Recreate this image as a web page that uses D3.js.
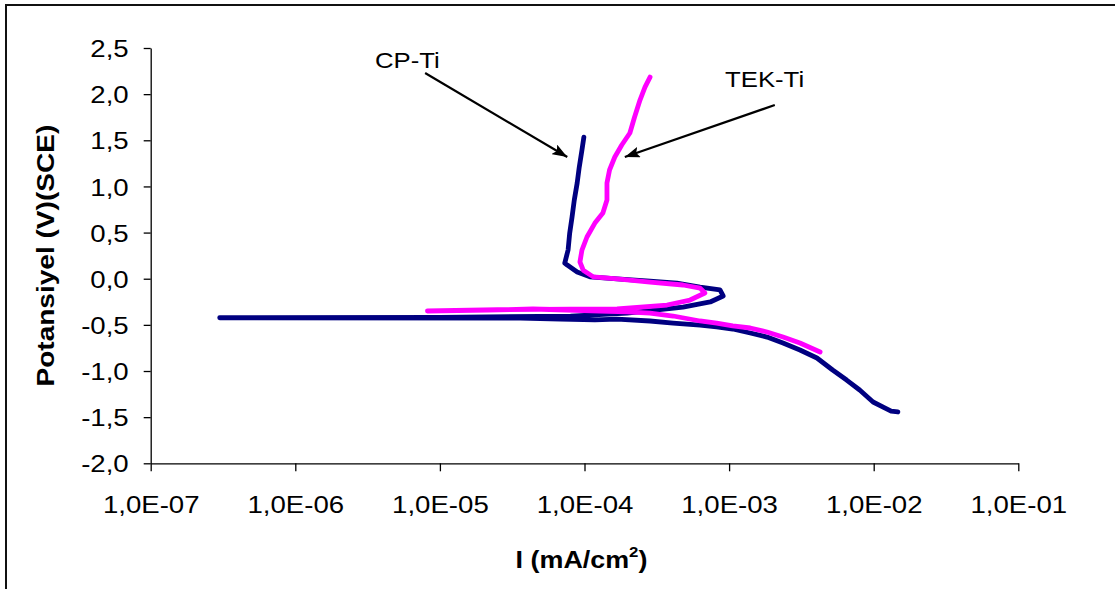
<!DOCTYPE html>
<html>
<head>
<meta charset="utf-8">
<script src="https://cdn.jsdelivr.net/npm/d3@7"></script>
<style>
  html, body { margin: 0; padding: 0; background: #fff; }
  svg { display: block; font-family: "Liberation Sans", Arial, sans-serif; }
</style>
</head>
<body>
<svg id="chart" width="1115" height="589"></svg>
<script>
// Polarisation curves: current density (mA/cm²) vs potential (V vs SCE)
const seriesNames = ["CP-Ti", "TEK-Ti"];
const seriesColors = ["#000080", "#ff00ff"];

// CP-Ti scan: cathodic branch -> corrosion potential -> anodic branch
const cpCurrent = [1.47e-2, 1.32e-2, 1.20e-2, 9.9e-3, 8.0e-3, 6.5e-3, 5.2e-3, 4.05e-3, 3.09e-3, 2.36e-3,
  1.83e-3, 1.40e-3, 1.06e-3, 8.2e-4, 6.3e-4, 4.1e-4, 2.84e-4, 1.68e-4, 1.18e-4, 6.8e-5, 3.6e-5,
  3.0e-7, 1.0e-5, 8.0e-5, 1.97e-4, 4.8e-4, 7.4e-4, 9.1e-4, 8.65e-4, 6.3e-4, 4.36e-4, 2.84e-4,
  1.68e-4, 1.09e-4, 8.9e-5, 7.6e-5, 7.3e-5, 7.7e-5, 7.9e-5, 8.2e-5, 8.5e-5, 8.9e-5, 9.2e-5,
  9.6e-5, 9.9e-5];
const cpPotential = [-1.444, -1.435, -1.401, -1.336, -1.206, -1.098, -0.989, -0.859, -0.772, -0.697,
  -0.632, -0.588, -0.545, -0.523, -0.502, -0.480, -0.458, -0.437, -0.445, -0.438, -0.427,
  -0.423, -0.418, -0.405, -0.372, -0.307, -0.252, -0.187, -0.122, -0.090, -0.047, -0.025,
  -0.002, 0.020, 0.073, 0.148, 0.170, 0.311, 0.495, 0.668, 0.853, 1.037, 1.210,
  1.394, 1.535];

// TEK-Ti scan
const tekCurrent = [4.26e-3, 3.09e-3, 2.36e-3, 1.83e-3, 1.40e-3, 1.06e-3, 8.2e-4, 6.3e-4, 4.1e-4,
  2.84e-4, 1.97e-4, 1.28e-4, 4.4e-5, 2.15e-5, 8.2e-6, 2.5e-5, 8.0e-5, 1.68e-4, 3.72e-4, 5.37e-4,
  6.8e-4, 6.3e-4, 4.8e-4, 2.84e-4, 1.68e-4, 1.15e-4, 9.8e-5, 9.3e-5, 9.6e-5, 1.04e-4, 1.18e-4,
  1.34e-4, 1.43e-4, 1.43e-4, 1.49e-4, 1.62e-4, 1.81e-4, 2.06e-4, 2.22e-4, 2.42e-4, 2.62e-4, 2.84e-4];
const tekPotential = [-0.794, -0.697, -0.632, -0.577, -0.534, -0.512, -0.480, -0.458, -0.404,
  -0.372, -0.360, -0.350, -0.328, -0.339, -0.350, -0.335, -0.330, -0.328, -0.285, -0.231,
  -0.155, -0.101, -0.068, -0.036, -0.002, 0.020, 0.093, 0.181, 0.311, 0.452, 0.603,
  0.712, 0.853, 1.037, 1.178, 1.319, 1.449, 1.579, 1.752, 1.936, 2.077, 2.185];

const xTickValues = [1e-7, 1e-6, 1e-5, 1e-4, 1e-3, 1e-2, 1e-1];
const xTickLabels = ["1,0E-07", "1,0E-06", "1,0E-05", "1,0E-04", "1,0E-03", "1,0E-02", "1,0E-01"];
const yTickValues = [-2, -1.5, -1, -0.5, 0, 0.5, 1, 1.5, 2, 2.5];
const yTickLabels = ["-2,0", "-1,5", "-1,0", "-0,5", "0,0", "0,5", "1,0", "1,5", "2,0", "2,5"];

// Arrow callouts: [tail current, tail potential, tip current, tip potential]
const cpArrow = [7.9e-6, 2.229, 7.6e-5, 1.319];
const tekArrow = [2.07e-3, 1.882, 1.9e-4, 1.319];

const svg = d3.select("#chart");
const W = 1115, H = 589;
const plotLeft = 150.7, plotRight = 1018.3, plotTop = 48, plotBottom = 463.3;
const textStretch = 1.15;

const x = d3.scaleLog().domain([1e-7, 1e-1]).range([plotLeft, plotRight]);
const y = d3.scaleLinear().domain([-2, 2.5]).range([plotBottom, plotTop]);

// outer chart border
svg.append("rect")
  .attr("x", 6).attr("y", 5)
  .attr("width", W + 20).attr("height", H + 20)
  .attr("fill", "none").attr("stroke", "#111").attr("stroke-width", 2);

// Y axis
const yAxis = svg.append("g")
  .attr("transform", `translate(${plotLeft},0)`)
  .call(d3.axisLeft(y).tickValues(yTickValues).tickSize(7).tickSizeOuter(0)
    .tickFormat((d, i) => yTickLabels[i]));
yAxis.selectAll("text")
  .attr("x", null).attr("dy", "0.36em")
  .attr("transform", `translate(-22,0) scale(${textStretch},1)`)
  .attr("font-size", 24).attr("fill", "#000")
  .attr("font-family", "Liberation Sans, Arial, sans-serif");

// X axis
const xAxis = svg.append("g")
  .attr("transform", `translate(0,${plotBottom})`)
  .call(d3.axisBottom(x).tickValues(xTickValues).tickSize(8).tickSizeOuter(0)
    .tickFormat((d, i) => xTickLabels[i]));
xAxis.selectAll("text")
  .attr("y", 49.5).attr("dy", 0)
  .attr("transform", `scale(${textStretch},1)`)
  .attr("font-size", 24).attr("fill", "#000")
  .attr("font-family", "Liberation Sans, Arial, sans-serif");

svg.selectAll(".domain, .tick line").attr("stroke", "#000").attr("stroke-width", 1.3);

// Axis titles
const xTitle = svg.append("text")
  .attr("transform", `translate(${(plotLeft + plotRight) / 2 - 3},568) scale(1.12,1)`)
  .attr("text-anchor", "middle")
  .attr("font-size", 24).attr("font-weight", "bold");
xTitle.append("tspan").text("I (mA/cm");
xTitle.append("tspan").attr("font-size", 15).attr("dy", -11).text("2");
xTitle.append("tspan").attr("dy", 11).text(")");

svg.append("text")
  .attr("transform", `translate(54,${(plotTop + plotBottom) / 2}) rotate(-90) scale(1.22,1)`)
  .attr("text-anchor", "middle")
  .attr("font-size", 23).attr("font-weight", "bold")
  .text("Potansiyel (V)(SCE)");

// Curves
const line = d3.line().x(d => x(d[0])).y(d => y(d[1]));
const series = [
  d3.zip(cpCurrent, cpPotential),
  d3.zip(tekCurrent, tekPotential)
];
series.forEach((pts, i) => {
  svg.append("path")
    .datum(pts)
    .attr("d", line)
    .attr("fill", "none")
    .attr("stroke", seriesColors[i])
    .attr("stroke-width", 4.8)
    .attr("stroke-linejoin", "round")
    .attr("stroke-linecap", "round");
});

// Callout arrows
svg.append("defs").append("marker")
  .attr("id", "head")
  .attr("viewBox", "0 0 15 11")
  .attr("refX", 15).attr("refY", 5.5)
  .attr("markerWidth", 15).attr("markerHeight", 11)
  .attr("markerUnits", "userSpaceOnUse")
  .attr("orient", "auto")
  .append("path").attr("d", "M0,0 L15,5.5 L0,11 L3,5.5 Z").attr("fill", "#000");

[cpArrow, tekArrow].forEach(a => {
  svg.append("line")
    .attr("x1", x(a[0])).attr("y1", y(a[1]))
    .attr("x2", x(a[2])).attr("y2", y(a[3]))
    .attr("stroke", "#000").attr("stroke-width", 2.2)
    .attr("marker-end", "url(#head)");
});

svg.append("text")
  .attr("transform", `translate(375,68) scale(1.17,1)`)
  .attr("font-size", 22).text(seriesNames[0]);
svg.append("text")
  .attr("transform", `translate(725,87) scale(1.17,1)`)
  .attr("font-size", 22).text(seriesNames[1]);
</script>
</body>
</html>
